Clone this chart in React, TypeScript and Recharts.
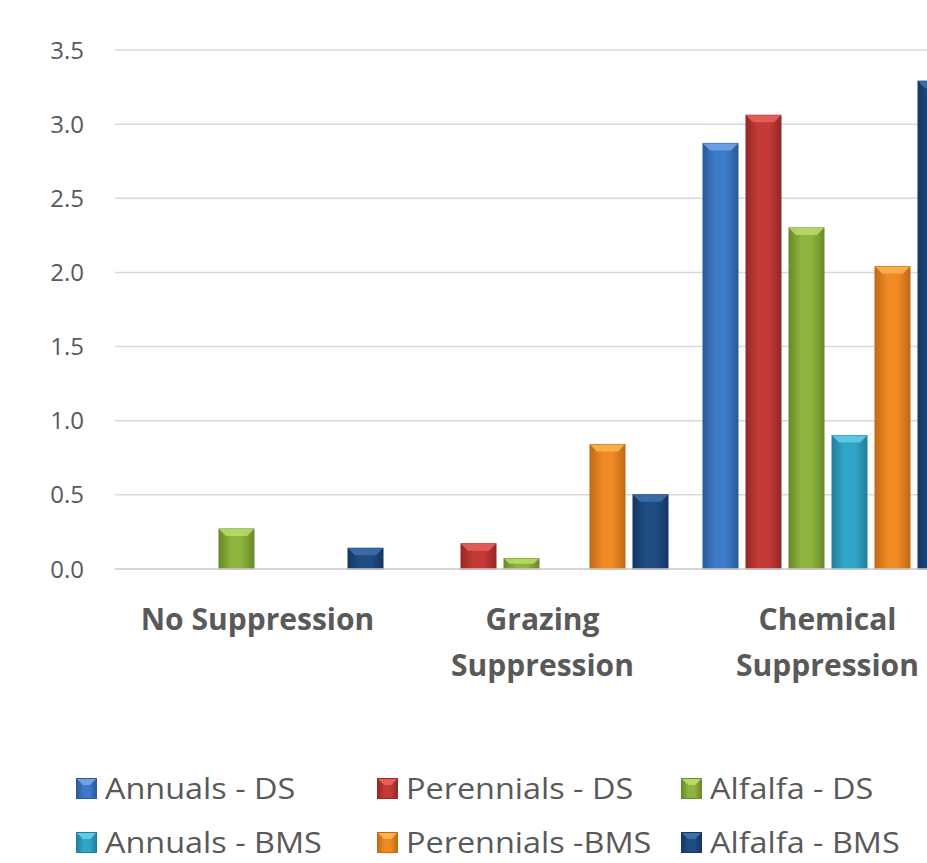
import { Bar, BarChart, CartesianGrid, Legend, XAxis, YAxis } from "recharts"

const categories = ["No Suppression", "Grazing Suppression", "Chemical Suppression"]
const annualsDS = [0, 0, 2.87]
const perennialsDS = [0, 0.17, 3.06]
const alfalfaDS = [0.27, 0.07, 2.3]
const annualsBMS = [0, 0, 0.9]
const perennialsBMS = [0, 0.84, 2.04]
const alfalfaBMS = [0.14, 0.5, 3.29]
const yTicks = [0, 0.5, 1, 1.5, 2, 2.5, 3, 3.5]

const series = [
  { key: "annualsDS", name: "Annuals - DS", values: annualsDS, color: "#3D7BC8", light: "#6FA3E3", dark: "#2A5A99" },
  { key: "perennialsDS", name: "Perennials - DS", values: perennialsDS, color: "#C43A37", light: "#E5605C", dark: "#962825" },
  { key: "alfalfaDS", name: "Alfalfa - DS", values: alfalfaDS, color: "#8DB43E", light: "#B7D968", dark: "#6A8A2B" },
  { key: "annualsBMS", name: "Annuals - BMS", values: annualsBMS, color: "#31A5C7", light: "#5FCBE8", dark: "#22809C" },
  { key: "perennialsBMS", name: "Perennials -BMS", values: perennialsBMS, color: "#EF8A25", light: "#FDB14F", dark: "#C06A16" },
  { key: "alfalfaBMS", name: "Alfalfa - BMS", values: alfalfaBMS, color: "#1F4C82", light: "#3C6FA8", dark: "#153761" },
]

const data = categories.map((name, i) => {
  const row: Record<string, string | number> = { name }
  series.forEach((s) => {
    row[s.key] = s.values[i]
  })
  return row
})

const font = "'Open Sans', sans-serif"
const textColor = "#595959"

function BevelBar(props: any) {
  const { x, y, width, height, gid, light, dark } = props
  if (!height || height <= 0) return null
  const b = Math.min(7, height / 2, width / 4)
  return (
    <g>
      <rect x={x} y={y} width={width} height={height} fill={`url(#${gid})`} stroke={dark} strokeWidth={1} />
      <polygon
        points={`${x},${y} ${x + width},${y} ${x + width - b},${y + b} ${x + b},${y + b}`}
        fill={light}
        opacity={0.9}
      />
    </g>
  )
}

function CategoryTick({ x, y, payload }: any) {
  const words = String(payload.value).split(" ")
  const lines: string[] = []
  let cur = ""
  words.forEach((w) => {
    const next = cur ? cur + " " + w : w
    if (next.length > 16 && cur) {
      lines.push(cur)
      cur = w
    } else cur = next
  })
  if (cur) lines.push(cur)
  return (
    <text x={x} y={y + 59} textAnchor="middle" fill={textColor} fontFamily={font} fontSize={30} fontWeight="bold">
      {lines.map((l, i) => (
        <tspan key={i} x={x} dy={i === 0 ? 0 : 46}>
          {l}
        </tspan>
      ))}
    </text>
  )
}

function LegendContent() {
  return (
    <div
      style={{
        display: "grid",
        gridTemplateColumns: "301px 304px 260px",
        gridAutoRows: "54px",
        paddingLeft: 76,
        paddingTop: 8,
        fontFamily: font,
        fontSize: 30,
        lineHeight: "32px",
        color: textColor,
      }}
    >
      {series.map((s) => (
        <div key={s.key} style={{ display: "flex", alignItems: "center", whiteSpace: "nowrap" }}>
          <svg width={21} height={21} style={{ marginRight: 8, flexShrink: 0 }}>
            <rect x={0.5} y={0.5} width={20} height={20} fill={`url(#g-${s.key})`} stroke={s.dark} />
            <polygon points="1,1 20,1 14,7 7,7" fill={s.light} />
          </svg>
          <span style={{ display: "inline-block", transform: "scaleX(1.08)", transformOrigin: "left center" }}>
            {s.name}
          </span>
        </div>
      ))}
    </div>
  )
}

export default function App() {
  return (
    <div
      style={{
        position: "fixed",
        left: 0,
        top: 0,
        width: 927,
        height: 863,
        overflow: "hidden",
        background: "#fff",
      }}
    >
      <svg width={0} height={0} style={{ position: "absolute" }}>
        <defs>
          {series.map((s) => (
            <linearGradient key={s.key} id={`g-${s.key}`} x1="0" y1="0" x2="1" y2="0">
              <stop offset="0%" stopColor={s.dark} />
              <stop offset="35%" stopColor={s.color} />
              <stop offset="65%" stopColor={s.color} />
              <stop offset="100%" stopColor={s.dark} />
            </linearGradient>
          ))}
        </defs>
      </svg>
      <BarChart
        width={990}
        height={863}
        data={data}
        margin={{ top: 50, right: 20, bottom: 0, left: 0 }}
        barSize={35}
        barGap={8}
      >
        <CartesianGrid vertical={false} stroke="#D9D9D9" strokeWidth={1.5} />
        <XAxis
          dataKey="name"
          height={184}
          tick={<CategoryTick />}
          tickSize={0}
          axisLine={{ stroke: "#D0D0D0", strokeWidth: 1.5 }}
          interval={0}
        />
        <YAxis
          width={115}
          domain={[0, 3.5]}
          ticks={yTicks}
          tickFormatter={(v: number) => v.toFixed(1)}
          tick={{ fill: textColor, fontSize: 24, fontFamily: font }}
          tickSize={0}
          tickMargin={31}
          axisLine={false}
          tickLine={false}
        />
        <Legend verticalAlign="bottom" height={110} content={<LegendContent />} />
        {series.map((s) => (
          <Bar
            key={s.key}
            dataKey={s.key}
            name={s.name}
            fill={s.color}
            isAnimationActive={false}
            shape={(p: any) => <BevelBar {...p} gid={`g-${s.key}`} light={s.light} dark={s.dark} />}
          />
        ))}
      </BarChart>
    </div>
  )
}
